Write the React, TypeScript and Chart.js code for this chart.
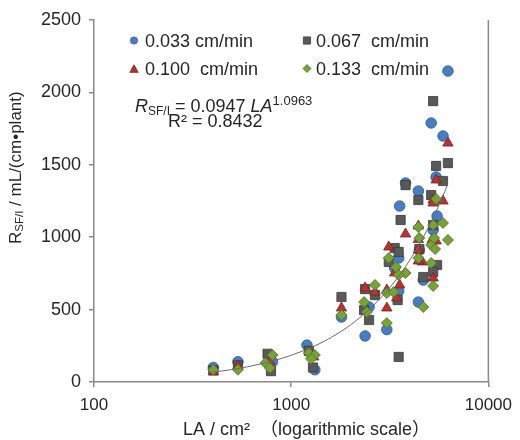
import React, { useEffect, useRef } from "react";
import { Chart, registerables } from "chart.js";

Chart.register(...registerables);

// ---- data (x = LA / cm², y = R_SF/I) ----
const X_TICKS = [100, 1000, 10000];
const Y_TICKS = [0, 500, 1000, 1500, 2000, 2500];

const SERIES_LABELS = ["0.033 cm/min", "0.067  cm/min", "0.100  cm/min", "0.133  cm/min"];

const S033: [number, number][] = [
  [403, 100], [537, 140], [804, 140], [1202, 255], [1318, 85], [1799, 449],
  [2371, 318], [2483, 518], [3055, 362], [3350, 787], [3508, 856], [3508, 628],
  [3548, 1215], [3802, 1374], [4416, 1319], [4467, 911], [4677, 704], [4416, 552],
  [5248, 1050], [5495, 1146], [5433, 1416], [5129, 1789], [5888, 1699], [6237, 2148],
];

const S067: [number, number][] = [
  [403, 80], [537, 115], [759, 195], [790, 75], [1290, 100], [1230, 215],
  [1799, 587], [2371, 642], [2661, 600], [2344, 497], [2483, 428], [3508, 173],
  [3350, 925], [3508, 898], [3126, 829], [3467, 566], [3589, 1119], [3802, 1360],
  [4416, 1257], [4467, 918], [5129, 1291], [5248, 1084], [5433, 1492], [5888, 1388],
  [6237, 1512], [5248, 1940], [5495, 808], [5248, 760], [4677, 725],
];

const S100: [number, number][] = [
  [403, 70], [537, 110], [780, 140], [1245, 205], [1300, 173], [1799, 511],
  [2371, 649], [2661, 621], [3126, 932], [3055, 635], [3055, 511], [3350, 753],
  [3548, 670], [3428, 580], [3802, 1022], [4416, 1077], [4416, 984], [4624, 829],
  [4416, 836], [4416, 911], [5188, 981], [5433, 974], [5248, 1257], [5248, 1236],
  [5433, 1395], [5888, 1250], [6237, 1650], [5248, 718],
];

const S133: [number, number][] = [
  [403, 85], [537, 85], [740, 131], [804, 186], [780, 97], [1230, 200],
  [1318, 186], [1260, 160], [1799, 462], [2661, 670], [2344, 552], [2420, 483],
  [3055, 614], [3055, 407], [3126, 856], [3400, 794], [3802, 753], [3508, 739],
  [3311, 621], [4416, 1070], [4467, 994], [4416, 856], [5129, 946], [5309, 994],
  [5370, 918], [6237, 981], [5433, 1264], [5888, 1098], [5248, 1084], [5129, 822],
  [5248, 663], [4677, 518],
];

// power trend line from the equation shown on the chart
const TREND_A = 0.0947;
const TREND_B = 1.0963;
const TREND_R2 = "0.8432";
const TREND_X = [400, 450, 500, 600, 700, 800, 900, 1000, 1200, 1400, 1600, 1800, 2000,
  2300, 2600, 3000, 3400, 3800, 4200, 4600, 5000, 5500, 6000, 6200];

const COLORS = {
  blue: { fill: "#4a7dbf", stroke: "#2f5b90" },
  gray: { fill: "#595959", stroke: "#3a3a3a" },
  red: { fill: "#b03636", stroke: "#7a2222" },
  green: { fill: "#79a03a", stroke: "#4e6b24" },
};

const FONT = '"Liberation Sans", Arial, "Noto Sans CJK SC", sans-serif';
const TEXT_COLOR = "#262626";
const AXIS_COLOR = "#8a8a8a";

function drawMarker(ctx: CanvasRenderingContext2D, style: string, x: number, y: number, r: number, fill: string, stroke: string) {
  ctx.save();
  ctx.fillStyle = fill;
  ctx.strokeStyle = stroke;
  ctx.lineWidth = 0.8;
  ctx.beginPath();
  if (style === "circle") {
    ctx.arc(x, y, r, 0, Math.PI * 2);
  } else if (style === "rect") {
    ctx.rect(x - r, y - r, 2 * r, 2 * r);
  } else if (style === "triangle") {
    ctx.moveTo(x, y - r);
    ctx.lineTo(x + r, y + r * 0.8);
    ctx.lineTo(x - r, y + r * 0.8);
    ctx.closePath();
  } else {
    ctx.moveTo(x, y - r);
    ctx.lineTo(x + r, y);
    ctx.lineTo(x, y + r);
    ctx.lineTo(x - r, y);
    ctx.closePath();
  }
  ctx.fill();
  ctx.stroke();
  ctx.restore();
}

const decorPlugin = {
  id: "decor",
  afterDraw(chart: any) {
    const ctx: CanvasRenderingContext2D = chart.ctx;
    const area = chart.chartArea;
    ctx.save();
    // right frame line
    ctx.strokeStyle = AXIS_COLOR;
    ctx.lineWidth = 1.5;
    ctx.beginPath();
    ctx.moveTo(area.right, area.top);
    ctx.lineTo(area.right, area.bottom);
    ctx.stroke();

    // legend
    const legend = [
      { style: "circle", c: COLORS.blue, x: 134, y: 40.5, r: 3.6, tx: 145, ty: 47 },
      { style: "rect", c: COLORS.gray, x: 307, y: 40.5, r: 3.6, tx: 316, ty: 47 },
      { style: "triangle", c: COLORS.red, x: 134, y: 69, r: 4.2, tx: 145, ty: 75 },
      { style: "diamond", c: COLORS.green, x: 307, y: 68.5, r: 4, tx: 316, ty: 75 },
    ];
    ctx.textBaseline = "alphabetic";
    ctx.textAlign = "left";
    legend.forEach((l, i) => {
      drawMarker(ctx, l.style, l.x, l.y, l.r, l.c.fill, l.c.stroke);
      ctx.fillStyle = TEXT_COLOR;
      ctx.font = `18px ${FONT}`;
      ctx.fillText(SERIES_LABELS[i], l.tx, l.ty);
    });

    // equation
    let x = 135;
    const b1 = 112;
    ctx.fillStyle = TEXT_COLOR;
    ctx.font = `italic 18px ${FONT}`;
    ctx.fillText("R", x, b1);
    x += ctx.measureText("R").width;
    ctx.font = `12px ${FONT}`;
    ctx.fillText("SF/I", x, b1 + 3);
    x += ctx.measureText("SF/I").width;
    const mid = " = " + TREND_A.toFixed(4) + " ";
    ctx.font = `18px ${FONT}`;
    ctx.fillText(mid, x, b1);
    x += ctx.measureText(mid).width;
    ctx.font = `italic 18px ${FONT}`;
    ctx.fillText("LA", x, b1);
    x += ctx.measureText("LA").width;
    ctx.font = `13px ${FONT}`;
    ctx.fillText(TREND_B.toFixed(4), x, b1 - 7);
    ctx.font = `18px ${FONT}`;
    ctx.fillText("R² = " + TREND_R2, 168, 127);

    // x axis title
    ctx.font = `18px ${FONT}`;
    ctx.fillText("LA / cm²  （logarithmic scale）", 183, 435);

    // y axis title (rotated)
    ctx.save();
    ctx.translate(21, 244);
    ctx.rotate(-Math.PI / 2);
    let u = 0;
    ctx.font = `17px ${FONT}`;
    ctx.fillText("R", u, 0);
    u += ctx.measureText("R").width;
    ctx.font = `11.5px ${FONT}`;
    ctx.fillText("SF/I", u, 2);
    u += ctx.measureText("SF/I").width;
    ctx.font = `17px ${FONT}`;
    ctx.fillText(" / mL/(cm•plant)", u, 0);
    ctx.restore();

    ctx.restore();
  },
};

const toPts = (arr: [number, number][]) => arr.map(([x, y]) => ({ x, y }));

export default function App() {
  const ref = useRef<HTMLCanvasElement | null>(null);

  useEffect(() => {
    if (!ref.current) return;
    const trend = TREND_X.map((x) => ({ x, y: TREND_A * Math.pow(x, TREND_B) }));
    const chart = new Chart(ref.current, {
      type: "scatter",
      data: {
        datasets: [
          {
            type: "line",
            label: "trend",
            data: trend,
            borderColor: "#6a6a6a",
            borderWidth: 1,
            pointRadius: 0,
            showLine: true,
            fill: false,
            tension: 0,
            order: 0,
          } as any,
          {
            label: SERIES_LABELS[3],
            data: toPts(S133),
            pointStyle: "rectRot",
            pointRadius: 5.5,
            backgroundColor: COLORS.green.fill,
            borderColor: COLORS.green.stroke,
            borderWidth: 0.8,
            order: 1,
          },
          {
            label: SERIES_LABELS[2],
            data: toPts(S100),
            pointStyle: "triangle",
            pointRadius: 6,
            backgroundColor: COLORS.red.fill,
            borderColor: COLORS.red.stroke,
            borderWidth: 0.8,
            order: 2,
          },
          {
            label: SERIES_LABELS[1],
            data: toPts(S067),
            pointStyle: "rect",
            pointRadius: 6.5,
            backgroundColor: COLORS.gray.fill,
            borderColor: COLORS.gray.stroke,
            borderWidth: 0.8,
            order: 3,
          },
          {
            label: SERIES_LABELS[0],
            data: toPts(S033),
            pointStyle: "circle",
            pointRadius: 5.3,
            backgroundColor: COLORS.blue.fill,
            borderColor: COLORS.blue.stroke,
            borderWidth: 0.8,
            order: 4,
          },
        ],
      },
      options: {
        animation: false,
        responsive: false,
        maintainAspectRatio: false,
        layout: { padding: { left: 0, top: 20, right: 26, bottom: 0 } },
        plugins: { legend: { display: false }, tooltip: { enabled: false } },
        scales: {
          x: {
            type: "logarithmic",
            min: 100,
            max: 10000,
            afterBuildTicks: (s: any) => {
              s.ticks = X_TICKS.map((v) => ({ value: v, major: true }));
            },
            afterFit: (s: any) => {
              s.height = 58;
            },
            border: { color: AXIS_COLOR, width: 1.5 },
            grid: { drawOnChartArea: false, drawTicks: true, tickLength: 5, color: AXIS_COLOR, lineWidth: 1.5 },
            ticks: {
              autoSkip: false,
              maxRotation: 0,
              padding: 8,
              color: TEXT_COLOR,
              font: { family: FONT, size: 17 },
              callback: (v: any) => String(v),
            },
          },
          y: {
            type: "linear",
            min: 0,
            max: 2500,
            afterBuildTicks: (s: any) => {
              s.ticks = Y_TICKS.map((v) => ({ value: v }));
            },
            afterFit: (s: any) => {
              s.width = 94;
            },
            border: { color: AXIS_COLOR, width: 1.5 },
            grid: { drawOnChartArea: false, drawTicks: true, tickLength: 5, color: AXIS_COLOR, lineWidth: 1.5 },
            ticks: {
              padding: 8,
              color: TEXT_COLOR,
              font: { family: FONT, size: 18 },
              callback: (v: any) => String(v),
            },
          },
        },
      },
      plugins: [decorPlugin],
    });
    return () => chart.destroy();
  }, []);

  return (
    <div style={{ position: "absolute", left: 0, top: 0, width: 520, height: 440, background: "#fff" }}>
      <canvas ref={ref} width={520} height={440} style={{ width: 520, height: 440 }} />
    </div>
  );
}
